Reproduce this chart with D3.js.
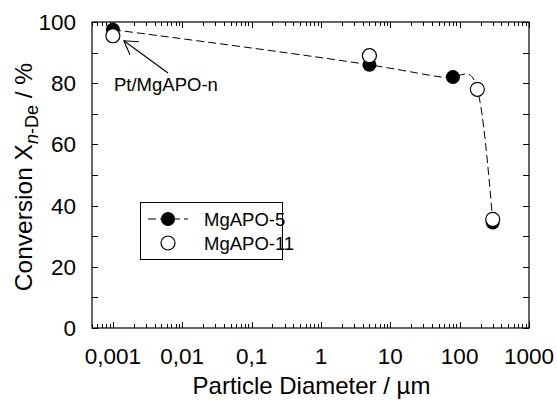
<!DOCTYPE html>
<html><head><meta charset="utf-8">
<script src="https://cdn.jsdelivr.net/npm/d3@7"></script>
<style>body{margin:0;background:#fff}svg{display:block}text{font-family:"Liberation Sans",Arial,sans-serif;fill:#000}</style>
</head><body><svg id="c" width="557" height="404"></svg>
<script>
// Data
const diam5 = [0.001, 5, 80, 300];
const conv5 = [97.5, 86, 82, 34.5];
const diam11 = [0.001, 5, 180, 300];
const conv11 = [95.5, 89, 78, 35.5];
// dashed guide curve through the data
const trendX = [0.001, 5, 80, 180, 300];
const trendY = [97.5, 86, 82, 78, 35];
const xTickVals = [0.001, 0.01, 0.1, 1, 10, 100, 1000];
const xTickLabels = ["0,001", "0,01", "0,1", "1", "10", "100", "1000"];
const yTickVals = [0, 20, 40, 60, 80, 100];
const seriesNames = ["MgAPO-5", "MgAPO-11"];

const svg = d3.select("#c");
const L = 92, R = 529, T = 22, B = 328;
const x = d3.scaleLog().domain([0.0005, 1000]).range([L, R]);
const y = d3.scaleLinear().domain([0, 100]).range([B, T]);

// frame
svg.append("rect").attr("x", L).attr("y", T).attr("width", R - L).attr("height", B - T)
  .attr("fill", "none").attr("stroke", "#000").attr("stroke-width", 1.2);

// x ticks (log minor)
const minor = [];
for (let e = -4; e <= 3; e++) for (let m = 1; m <= 9; m++) {
  const v = m * Math.pow(10, e);
  if (v >= 0.0005 && v <= 1000) minor.push({v, major: m === 1});
}
const g = svg.append("g").attr("stroke", "#000").attr("stroke-width", 1);
minor.forEach(d => {
  const px = Math.round(x(d.v)) + 0.5, len = d.major ? 6 : 4;
  g.append("line").attr("x1", px).attr("x2", px).attr("y1", B).attr("y2", B - len);
  g.append("line").attr("x1", px).attr("x2", px).attr("y1", T).attr("y2", T + len);
});
// y ticks every 10
d3.range(0, 101, 10).forEach(v => {
  const py = Math.round(y(v)) + 0.5;
  g.append("line").attr("x1", L).attr("x2", L + 6).attr("y1", py).attr("y2", py);
  g.append("line").attr("x1", R).attr("x2", R - 6).attr("y1", py).attr("y2", py);
});

// tick labels
xTickVals.forEach((v, i) => {
  svg.append("text").attr("x", x(v)).attr("y", 364).attr("text-anchor", "middle")
    .attr("font-size", 22.5).text(xTickLabels[i]);
});
yTickVals.forEach(v => {
  svg.append("text").attr("x", 76).attr("y", y(v) + 8).attr("text-anchor", "end")
    .attr("font-size", 22.5).text(v);
});

// axis titles
svg.append("text").attr("x", (L + R) / 2 + 1).attr("y", 394).attr("text-anchor", "middle")
  .attr("font-size", 24).text("Particle Diameter / µm");
const yt = svg.append("text").attr("transform", "translate(32," + ((T + B) / 2 + 2) + ") rotate(-90)")
  .attr("text-anchor", "middle").attr("font-size", 24.5);
yt.append("tspan").text("Conversion X");
yt.append("tspan").attr("font-size", 18).attr("dy", 6).attr("font-style", "italic").text("n");
yt.append("tspan").attr("font-size", 18).text("-De");
yt.append("tspan").attr("dy", -6).text(" / %");

// dashed curve
const pts = trendX.map((v, i) => [x(v), y(trendY[i])]);
svg.append("path").attr("d", d3.line().curve(d3.curveNatural)(pts))
  .attr("fill", "none").attr("stroke", "#000").attr("stroke-width", 1).attr("stroke-dasharray", "8,4");

// markers
const r = 7;
diam5.forEach((v, i) => svg.append("circle").attr("cx", x(v)).attr("cy", y(conv5[i])).attr("r", r).attr("fill", "#000"));
diam11.forEach((v, i) => svg.append("circle").attr("cx", x(v)).attr("cy", y(conv11[i])).attr("r", r)
  .attr("fill", "#fff").attr("stroke", "#000").attr("stroke-width", 1.2));

// annotation
svg.append("text").attr("x", 114).attr("y", 91).attr("font-size", 18.5).text("Pt/MgAPO-n");
const tip = [x(0.001) + 11, y(conv11[0]) + 5];
const ag = svg.append("g").attr("stroke", "#000").attr("stroke-width", 1.1).attr("fill", "none");
ag.append("line").attr("x1", 168).attr("y1", 73).attr("x2", tip[0]).attr("y2", tip[1]);
ag.append("polyline").attr("points", [[139, tip[1] + 1], tip, [130, tip[1] + 14]].map(p => p.join(",")).join(" "));

// legend
svg.append("rect").attr("x", 140.5).attr("y", 202.5).attr("width", 142).attr("height", 57)
  .attr("fill", "#fff").attr("stroke", "#000").attr("stroke-width", 1);
svg.append("line").attr("x1", 148).attr("x2", 188).attr("y1", 219).attr("y2", 219)
  .attr("stroke", "#000").attr("stroke-dasharray", "8,4").attr("stroke-dashoffset", 0);
svg.append("circle").attr("cx", 168).attr("cy", 219).attr("r", r).attr("fill", "#000");
svg.append("circle").attr("cx", 168).attr("cy", 243).attr("r", r).attr("fill", "#fff").attr("stroke", "#000").attr("stroke-width", 1.2);
seriesNames.forEach((n, i) => svg.append("text").attr("x", 204).attr("y", 226 + i * 24).attr("font-size", 18.5).text(n));
</script></body></html>
